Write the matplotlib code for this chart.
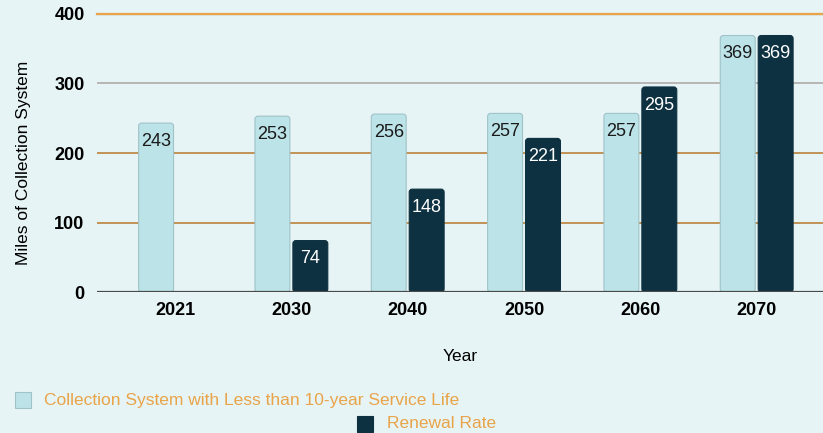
import matplotlib
matplotlib.use("Agg")
import matplotlib.pyplot as plt
from matplotlib.patches import Rectangle, FancyBboxPatch
import numpy as np

plt.rcParams['font.family'] = ['Liberation Sans', 'DejaVu Sans']

years = ["2021", "2030", "2040", "2050", "2060", "2070"]
short_life = [243, 253, 256, 257, 257, 369]
renewal = [0, 74, 148, 221, 295, 369]
series_names = ["Collection System with Less than 10-year Service Life", "Renewal Rate"]
yticks = [0, 100, 200, 300, 400]

bg = "#E6F4F5"
light = "#BCE3E8"
light_edge = "#9FC3C8"
dark = "#0D3140"
orange = "#E9A449"
tan = "#C09355"
grey = "#B8B8B8"

fig = plt.figure(figsize=(8.23, 4.33), dpi=100, facecolor=bg)
ax = fig.add_axes([0.118, 0.3256, 0.882, 0.6421])
ax.set_facecolor(bg)

x = np.arange(len(years))
w = 0.30
off = 0.163

ax.set_xlim(-0.67, 5.57)
ax.set_ylim(0, 400)

# gridlines
ax.axhline(400, color=grey, lw=1.0, zorder=1, clip_on=False)
ax.axhline(400, color=orange, lw=1.6, zorder=1.1, clip_on=False)
ax.axhline(300, color=orange, lw=1.4, zorder=1)
ax.axhline(300, color=grey, lw=1.4, zorder=1.1)
for v in (100, 200):
    ax.axhline(v, color=tan, lw=1.4, zorder=1)

b1 = ax.bar(x - off, short_life, w, color=light, edgecolor=light_edge, lw=0.8, zorder=2)
b2 = ax.bar(x + off, renewal, w, color=dark, edgecolor=dark, lw=0.8, zorder=2)

# rounded corners for bars
fig.canvas.draw()
xpp = (ax.get_xlim()[1] - ax.get_xlim()[0]) / ax.bbox.width
ypp = (ax.get_ylim()[1] - ax.get_ylim()[0]) / ax.bbox.height
for bars in (b1, b2):
    for r in bars:
        h = r.get_height()
        if h <= 0:
            r.set_visible(False)
            continue
        p = FancyBboxPatch((r.get_x(), 0), r.get_width(), h,
                           boxstyle=f"round,pad=0,rounding_size={3 * xpp}",
                           mutation_aspect=ypp / xpp,
                           facecolor=r.get_facecolor(), edgecolor=r.get_edgecolor(),
                           lw=0.8, zorder=2)
        ax.add_patch(p)
        r.set_visible(False)

ax.axhline(0, color="#4A4A4A", lw=1.6, zorder=3)

for xi, v in zip(x, short_life):
    ax.annotate(str(v), (xi - off, v), xytext=(0, -13), textcoords="offset points",
                ha="center", va="center", fontsize=13, color="#1A1A1A", zorder=4)
for xi, v in zip(x, renewal):
    if v > 0:
        ax.annotate(str(v), (xi + off, v), xytext=(0, -13), textcoords="offset points",
                    ha="center", va="center", fontsize=13, color="white", zorder=4)

ax.set_xticks(x)
ax.set_xticklabels(years, fontsize=13, fontweight="bold")
ax.set_yticks(yticks)
ax.set_yticklabels([str(t) for t in yticks], fontsize=13, fontweight="bold")
ax.tick_params(axis="both", length=0)
ax.tick_params(axis="x", pad=7)
ax.tick_params(axis="y", pad=9)
for s in ax.spines.values():
    s.set_visible(False)

ax.set_ylabel("Miles of Collection System", fontsize=12.5)
ax.yaxis.set_label_coords(-0.091, 0.464)
ax.set_xlabel("Year", fontsize=12.5, labelpad=22)

# legend
W, H = fig.bbox.width, fig.bbox.height
fig.patches.append(Rectangle((15 / W, 1 - 408 / H), 16 / W, 16 / H, transform=fig.transFigure,
                             facecolor=light, edgecolor=light_edge, lw=0.8))
fig.text(44 / W, 1 - 400 / H, series_names[0], fontsize=12.5, color=orange, va="center", ha="left")
fig.patches.append(Rectangle((357 / W, 1 - 432 / H), 16 / W, 16 / H, transform=fig.transFigure,
                             facecolor=dark, edgecolor=dark, lw=0.8))
fig.text(387 / W, 1 - 424 / H, series_names[1], fontsize=12.5, color=orange, va="center", ha="left")

fig.savefig("out.png", dpi=100, facecolor=bg)
